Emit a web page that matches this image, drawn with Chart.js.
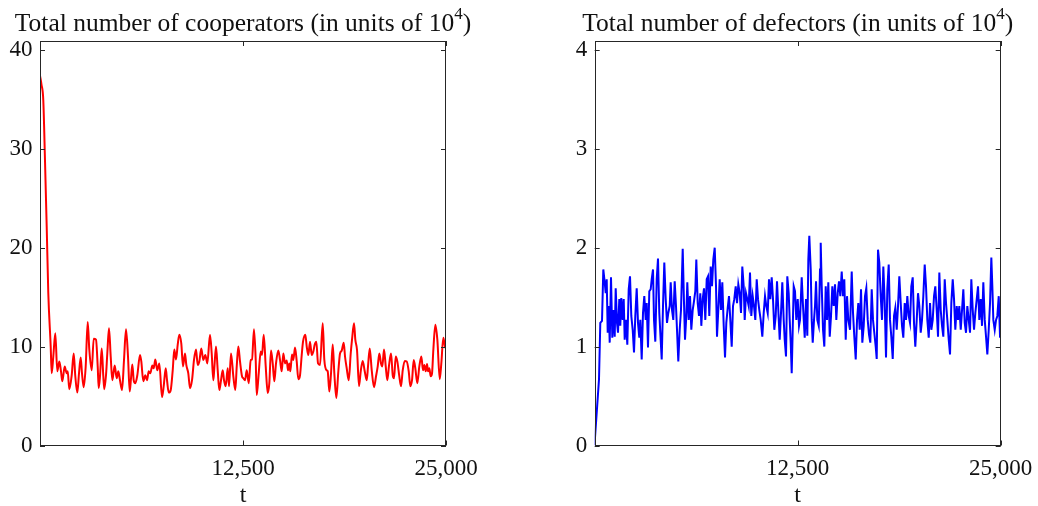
<!DOCTYPE html>
<html>
<head>
<meta charset="utf-8">
<script src="https://cdn.jsdelivr.net/npm/chart.js@4.4.1/dist/chart.umd.min.js"></script>
<style>
  html, body { margin: 0; padding: 0; background: #fff; }
  #wrap { position: relative; width: 1038px; height: 506px; background: #fff; }
  canvas { position: absolute; top: 0; }
</style>
</head>
<body>
<div id="wrap">
  <canvas id="c1" width="519" height="506" style="left:0"></canvas>
  <canvas id="c2" width="519" height="506" style="left:519px"></canvas>
</div>
<script>
// ---------- data ----------
const titleC = "Total number of cooperators (in units of 10";
const titleD = "Total number of defectors (in units of 10";
const xLabel = "t";
const xTicks = [12500, 25000];
const yTicksC = [0, 10, 20, 30, 40];
const yTicksD = [0, 1, 2, 3, 4];

const tC = [0,92,203,308,413,511,659,720,819,942,1065,1188,1293,1373,1521,1644,1706,1804,1952,2075,2174,2297,2402,2506,2586,2691,2814,2937,3036,3184,3307,3448,3553,3615,3695,3800,3898,3960,4064,4144,4249,4354,4452,4600,4723,4822,4926,5050,5173,5296,5419,5524,5604,5684,5770,5869,5992,6158,6238,6361,6484,6589,6694,6792,6915,7002,7100,7223,7347,7513,7617,7741,7821,7925,8048,8172,8270,8375,8480,8578,8701,8806,8929,9009,9132,9237,9360,9483,9607,9711,9810,9933,10056,10179,10302,10469,10573,10672,10733,10838,10943,11041,11146,11251,11331,11435,11559,11639,11762,11904,12027,12114,12211,12316,12439,12520,12624,12729,12852,12975,13055,13178,13283,13344,13468,13591,13671,13776,13899,14022,14121,14225,14330,14429,14533,14675,14779,14884,14983,15087,15192,15272,15352,15414,15518,15598,15703,15808,15906,16011,16116,16196,16337,16424,16522,16627,16732,16830,16916,17015,17120,17243,17409,17508,17655,17717,17816,17920,18025,18124,18247,18370,18474,18579,18702,18782,18887,19010,19133,19213,19336,19416,19521,19644,19749,19872,19995,20118,20198,20303,20427,20568,20691,20796,20895,20999,21079,21184,21289,21387,21492,21615,21720,21800,21904,22003,22126,22230,22335,22458,22582,22705,22803,22908,23013,23111,23234,23357,23481,23585,23666,23751,23832,23893,23974,24059,24140,24220,24343,24467,24615,24712,24835,24940,25000];
const vC = [37.4,36.5,34.9,28.8,22.1,15.4,10,7.3,9.0,11.35,7.5,8.5,7.5,6.5,8.0,7.3,7.5,5.7,7.1,9.3,7.0,5.35,7.3,8.9,7.3,5.9,8.0,12.5,9.7,7.6,10.8,10.7,8.0,5.8,7.0,9.8,7.0,5.7,7.1,9.3,11.85,9.0,6.6,8.1,6.8,7.5,6.6,5.6,8.65,11.75,9.0,5.45,6.8,8.2,6.6,6.3,7.1,9.15,8.5,6.5,7.1,6.6,7.5,7.3,8.1,7.8,8.7,7.6,8.3,4.9,6.0,7.8,6.6,5.35,5.6,7.6,9.7,8.7,10.2,11.2,10.3,8.0,9.3,8.15,7.3,5.8,6.6,8.65,9.7,8.15,8.5,9.8,8.65,9.15,8.3,11.2,9.3,6.6,7.8,10.0,7.6,5.6,6.6,7.6,6.6,6.0,7.8,6.0,9.3,7.0,5.6,8.0,10.0,8.5,7.0,6.8,6.6,7.6,6.3,8.65,8.7,11.75,8.65,5.1,7.3,9.5,9.15,11.2,8.0,5.3,6.3,9.6,8.3,6.5,8.3,9.6,8.65,7.5,9.3,8.3,8.6,7.6,8.3,7.5,9.2,8.65,9.9,8.5,6.7,7.1,9.15,10.5,11.2,10.0,9.15,10.5,9.15,9.5,10.2,10.5,8.3,8.15,12.35,8.65,7.6,7.5,5.45,7.3,10.2,7.3,4.8,7.5,9.3,9.6,10.4,9.0,7.8,6.6,9.3,10.7,12.35,10.7,9.66,6.0,7.5,8.55,7.5,6.6,8.0,9.8,7.6,5.9,7.0,8.0,9.3,8.3,8.0,9.7,8.0,6.6,8.1,9.3,7.1,6.8,9.0,8.5,7.0,6.0,7.6,8.55,8.5,7.5,6.0,6.6,8.65,7.8,6.3,8.0,9.0,7.6,8.15,7.5,8.25,7.5,7.8,7.0,7.3,9.66,12.2,10.7,6.7,8.3,10.9,10.0,9.8];

const tD = [0,18,265,345,450,530,616,677,739,801,862,924,1004,1084,1170,1232,1293,1373,1435,1515,1576,1638,1724,1786,1847,1927,2008,2094,2174,2254,2340,2420,2500,2586,2666,2746,2808,2894,2974,3054,3141,3202,3282,3362,3448,3510,3590,3652,3732,3818,3898,3978,4040,4126,4206,4286,4372,4452,4532,4619,4680,4760,4840,4926,5006,5068,5148,5234,5314,5419,5499,5561,5641,5702,5789,5869,5949,6035,6115,6195,6257,6343,6423,6503,6565,6651,6731,6811,6897,6977,7057,7143,7223,7303,7390,7470,7531,7611,7697,7778,7858,7944,8024,8104,8190,8270,8350,8436,8516,8596,8682,8763,8843,8929,9009,9089,9175,9237,9317,9397,9483,9563,9643,9730,9810,9890,9976,10056,10136,10222,10321,10407,10487,10567,10653,10733,10813,10899,10979,11060,11146,11226,11306,11392,11472,11552,11638,11700,11780,11860,11946,12008,12070,12131,12193,12254,12334,12415,12501,12581,12643,12747,12827,12932,13012,13092,13154,13215,13302,13363,13425,13505,13567,13628,13708,13795,13874,13917,13979,14059,14139,14225,14305,14385,14472,14552,14632,14718,14798,14878,14964,15044,15124,15210,15290,15370,15457,15537,15617,15722,15826,15906,15986,16073,16153,16233,16319,16399,16479,16565,16645,16725,16811,16891,16971,17057,17137,17217,17304,17365,17445,17525,17612,17692,17772,17858,17938,18018,18104,18184,18264,18351,18431,18511,18597,18677,18757,18843,18923,19003,19090,19170,19250,19336,19416,19496,19582,19662,19742,19829,19909,19989,20075,20155,20235,20321,20401,20482,20568,20648,20728,20814,20894,20974,21060,21141,21221,21307,21387,21467,21553,21633,21713,21800,21880,21960,22046,22126,22206,22292,22372,22452,22539,22619,22699,22785,22865,22945,23031,23111,23191,23278,23358,23438,23524,23604,23684,23770,23850,23930,24017,24097,24177,24263,24343,24423,24485,24546,24632,24713,24793,24879,24959,25000];
const vD = [0,0.08,0.67,1.24,1.26,1.78,1.65,1.54,1.68,1.14,1.41,1.04,1.70,1.09,1.37,1.1,1.59,1.24,1.14,1.48,1.21,1.49,1.27,1.48,1.07,1.27,1.02,1.58,1.71,1.31,1.17,0.94,1.31,1.59,1.24,1.09,1.27,0.87,1.34,1.51,1.27,1.44,0.99,1.56,1.58,1.68,1.78,1.27,1.05,1.68,1.89,1.34,1.14,0.87,1.41,1.85,1.48,1.24,1.34,1.41,1.65,1.37,1.27,1.66,1.41,1.17,0.85,1.17,1.37,1.99,1.44,1.07,1.31,1.65,1.27,1.51,1.17,1.37,1.46,1.56,1.88,1.44,1.31,1.54,1.21,1.48,1.59,1.27,1.68,1.71,1.31,1.81,1.61,1.88,2.0,1.61,1.1,1.37,1.68,1.37,1.65,1.21,0.89,1.24,1.39,1.51,1.27,1.0,1.41,1.48,1.61,1.44,1.63,1.54,1.34,1.81,1.61,1.27,1.54,1.48,1.41,1.75,1.31,1.51,1.41,1.27,1.68,1.48,1.37,1.27,1.1,1.34,1.51,1.41,1.34,1.68,1.48,1.70,1.48,1.17,1.31,1.66,1.37,1.07,1.34,1.65,1.27,1.07,0.90,1.71,1.54,1.27,1.04,0.73,1.17,1.61,1.56,1.27,1.48,1.21,1.27,1.70,1.41,1.09,1.48,1.11,1.88,2.12,1.78,1.27,1.04,1.27,1.41,1.66,1.27,1.21,1.78,2.05,1.61,1.17,1.0,1.61,1.27,1.65,1.10,1.31,1.61,1.41,1.63,1.27,1.54,1.66,1.51,1.76,1.51,1.68,1.07,1.51,1.27,1.17,1.76,1.34,1.10,0.87,1.27,1.44,1.17,1.58,1.04,1.21,1.51,1.59,1.27,1.12,1.04,1.58,1.27,1.14,1.0,0.875,1.98,1.85,1.51,1.27,1.81,1.44,0.89,1.58,1.83,1.27,1.10,0.875,1.31,1.39,1.17,1.41,1.71,1.44,1.21,1.09,1.44,1.27,1.51,1.31,1.24,1.61,1.70,1.24,1.0,1.27,1.54,1.41,1.14,1.27,1.51,1.83,1.61,1.27,1.09,1.44,1.17,1.27,1.51,1.61,1.37,1.10,1.75,1.37,1.21,1.10,1.68,1.44,1.27,1.07,0.92,1.44,1.68,1.48,1.17,1.41,1.27,1.41,1.17,1.37,1.58,1.24,1.14,1.41,1.27,1.14,1.68,1.37,1.17,1.34,1.48,1.61,1.27,1.48,1.21,1.65,1.27,1.10,0.92,1.17,1.44,1.90,1.61,1.27,1.17,1.27,1.31,1.51,1.1,1.2];

// ---------- drawing ----------
const FONT = '"Liberation Serif", "Times New Roman", serif';

function framePlugin(title) {
  return {
    id: 'frame',
    afterDraw(chart) {
      const { ctx, chartArea: { left, top, right, bottom }, scales: { x, y } } = chart;
      ctx.save();
      ctx.strokeStyle = '#262626';
      ctx.lineWidth = 1;
      ctx.strokeRect(Math.round(left) + 0.5, Math.round(top) + 0.5,
                     Math.round(right) - Math.round(left) - 1, Math.round(bottom) - Math.round(top) - 1);
      const L = 5;
      ctx.beginPath();
      y.ticks.forEach(t => {
        const py = Math.round(y.getPixelForValue(t.value)) + 0.5;
        ctx.moveTo(left, py); ctx.lineTo(left + L, py);
        ctx.moveTo(right - L, py); ctx.lineTo(right, py);
      });
      x.ticks.forEach(t => {
        const px = Math.round(x.getPixelForValue(t.value)) + 0.5;
        ctx.moveTo(px, bottom); ctx.lineTo(px, bottom - L);
        ctx.moveTo(px, top); ctx.lineTo(px, top + L);
      });
      ctx.stroke();
      // title with superscript
      ctx.fillStyle = '#111';
      ctx.textBaseline = 'alphabetic';
      ctx.textAlign = 'left';
      const mainFont = '25.5px ' + FONT, supFont = '17px ' + FONT;
      ctx.font = mainFont; const w1 = ctx.measureText(title).width; const w3 = ctx.measureText(')').width;
      ctx.font = supFont; const w2 = ctx.measureText('4').width;
      const total = w1 + w2 + w3;
      const sx = (left + right) / 2 - total / 2;
      ctx.font = mainFont; ctx.fillText(title, sx, 31);
      ctx.font = supFont; ctx.fillText('4', sx + w1, 18.5);
      ctx.font = mainFont; ctx.fillText(')', sx + w1 + w2, 31);
      // x axis label
      ctx.font = '24px ' + FONT;
      ctx.textAlign = 'center';
      ctx.fillText(xLabel, (left + right) / 2, 502);
      ctx.restore();
    }
  };
}

function makeChart(id, ts, vs, color, yMax, yTicks, yWidth, padRight, smooth) {
  const data = ts.map((t, i) => ({ x: t, y: vs[i] }));
  const ds = { data, borderColor: color, borderWidth: 2, pointRadius: 0, fill: false, tension: 0 };
  if (smooth) { ds.cubicInterpolationMode = 'monotone'; }
  return new Chart(document.getElementById(id), {
    type: 'line',
    data: { datasets: [ds] },
    options: {
      responsive: false, animation: false, devicePixelRatio: 1,
      layout: { padding: { left: 0, top: 41, right: padRight, bottom: 0 } },
      plugins: { legend: { display: false }, tooltip: { enabled: false } },
      scales: {
        x: {
          type: 'linear', min: 0, max: 25000,
          afterBuildTicks: s => { s.ticks = xTicks.map(v => ({ value: v })); },
          afterFit: s => { s.height = 60.5; s.paddingLeft = 0; s.paddingRight = 0; },
          grid: { display: false, drawTicks: false }, border: { display: false },
          ticks: { color: '#111', font: { family: FONT, size: 23 }, padding: 10, maxRotation: 0,
                   callback: v => v.toLocaleString('en-US') }
        },
        y: {
          min: 0, max: yMax,
          afterBuildTicks: s => { s.ticks = yTicks.map(v => ({ value: v })); },
          afterFit: s => { s.width = yWidth; s.paddingTop = 0; s.paddingBottom = 0; },
          grid: { display: false, drawTicks: false }, border: { display: false },
          ticks: { color: '#111', font: { family: FONT, size: 23 }, padding: 7.5 }
        }
      }
    },
    plugins: [framePlugin(id === 'c1' ? titleC : titleD)]
  });
}

makeChart('c1', tC, vC, '#ff0000', 40.9, yTicksC, 40, 73, true);
makeChart('c2', tD, vD, '#0000ff', 4.09, yTicksD, 75.7, 37.3, false);
</script>
</body>
</html>
